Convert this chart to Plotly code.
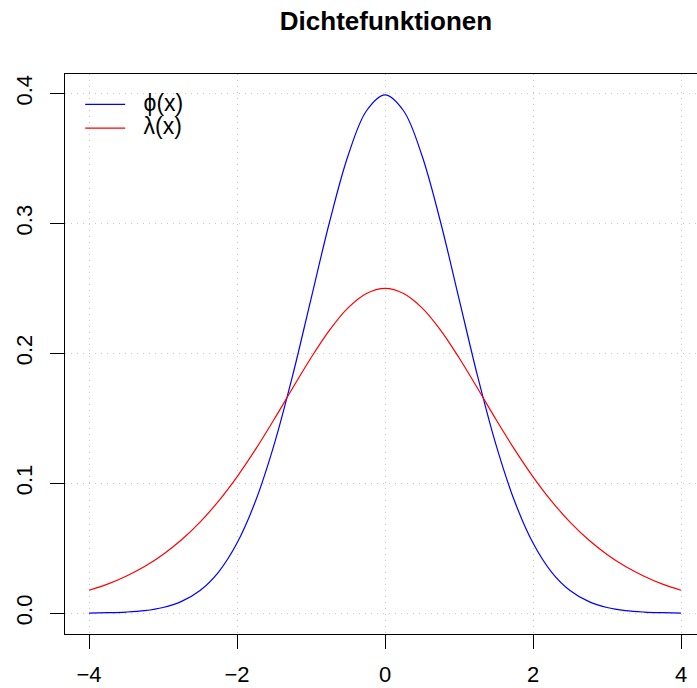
import plotly.graph_objects as go

x_vals = [-4.0, -3.75, -3.5, -3.25, -3.0, -2.75, -2.5, -2.25, -2.0, -1.75, -1.5, -1.25, -1.0, -0.75, -0.5, -0.25,
          0.0, 0.25, 0.5, 0.75, 1.0, 1.25, 1.5, 1.75, 2.0, 2.25, 2.5, 2.75, 3.0, 3.25, 3.5, 3.75, 4.0]
phi_vals = [0.0001, 0.0004, 0.0009, 0.0020, 0.0044, 0.0091, 0.0175, 0.0317, 0.0540, 0.0863, 0.1295, 0.1826,
            0.2420, 0.3011, 0.3521, 0.3867, 0.3989, 0.3867, 0.3521, 0.3011, 0.2420, 0.1826, 0.1295, 0.0863,
            0.0540, 0.0317, 0.0175, 0.0091, 0.0044, 0.0020, 0.0009, 0.0004, 0.0001]
lam_vals = [0.0177, 0.0224, 0.0285, 0.0359, 0.0452, 0.0565, 0.0701, 0.0863, 0.1050, 0.1261, 0.1491, 0.1731,
            0.1966, 0.2179, 0.2350, 0.2461, 0.2500, 0.2461, 0.2350, 0.2179, 0.1966, 0.1731, 0.1491, 0.1261,
            0.1050, 0.0863, 0.0701, 0.0565, 0.0452, 0.0359, 0.0285, 0.0224, 0.0177]
x_ticks = [-4, -2, 0, 2, 4]
y_ticks = [0.0, 0.1, 0.2, 0.3, 0.4]
names = ["ϕ(x)", "λ(x)"]
title = "Dichtefunktionen"

FONT = "Liberation Sans, Arial, sans-serif"


def leg(name):
    return '&nbsp;&nbsp;&nbsp;<span style="font-size:23px">' + name + '</span>'


fig = go.Figure()
fig.add_trace(go.Scatter(x=x_vals, y=phi_vals, mode="lines", name=leg(names[0]),
                         line=dict(color="#0000FF", width=1.2, shape="spline")))
fig.add_trace(go.Scatter(x=x_vals, y=lam_vals, mode="lines", name=leg(names[1]),
                         line=dict(color="#FF0000", width=1.2, shape="spline")))

fig.update_layout(
    width=697, height=688,
    margin=dict(l=65, r=0, t=74, b=54, autoexpand=False),
    paper_bgcolor="white", plot_bgcolor="white",
    font=dict(family=FONT, size=22, color="black"),
    title=dict(text="<b>" + title + "</b>", x=386 / 697, xanchor="center",
               y=1 - 21 / 688, yanchor="middle", font=dict(size=26)),
    showlegend=True,
    legend=dict(x=0.024, y=0.976, xanchor="left", yanchor="top",
                bgcolor="rgba(0,0,0,0)", font=dict(size=16), itemwidth=40,
                tracegroupgap=0),
)
grid = dict(showgrid=True, gridcolor="#c8c8c8", griddash="1px,5px", gridwidth=1, zeroline=False)
fig.update_xaxes(range=[-4.325, 4.216], tickvals=x_ticks, ticks="outside", ticklen=14,
                 tickcolor="black", tickwidth=1, showline=True, linecolor="black", linewidth=1,
                 mirror=True, ticklabelstandoff=7, tickfont=dict(size=22), automargin=False, **grid)
fig.update_yaxes(range=[-0.016, 0.415], tickvals=y_ticks, tickformat=".1f", ticks="outside",
                 ticklen=14, tickcolor="black", tickwidth=1, showline=True, linecolor="black",
                 linewidth=1, mirror=False, tickangle=-90, ticklabelstandoff=9,
                 tickfont=dict(size=22), automargin=False, **grid)

fig.write_html("out.html")
